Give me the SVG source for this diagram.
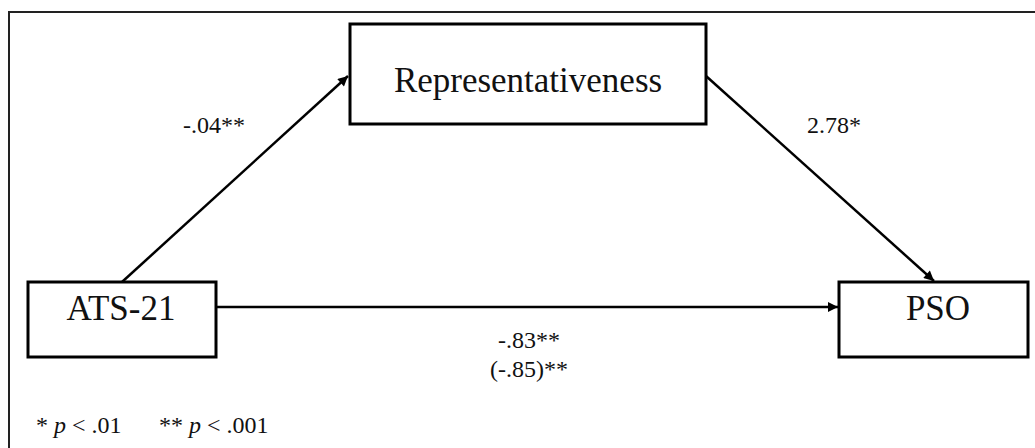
<svg xmlns="http://www.w3.org/2000/svg" width="1035" height="448" viewBox="0 0 1035 448">
<style>
.box{fill:#fff;stroke:#000;stroke-width:3}
.big{font-family:"Liberation Serif",serif;font-size:35px;fill:#111;text-anchor:middle}
.lbl{font-family:"Liberation Serif",serif;font-size:24px;fill:#111}
.con{stroke:#000;stroke-width:2.5;fill:none}
</style>
<defs>
<marker id="ah" viewBox="0 0 10 10" refX="10" refY="5" markerWidth="4.5" markerHeight="4" markerUnits="strokeWidth" orient="auto">
<path d="M0,0 L10,5 L0,10 z" fill="#000"/>
</marker>
</defs>
<rect width="1035" height="448" fill="#fff"/>
<path d="M9,460 V12 H1040" fill="none" stroke="#222" stroke-width="2"/>
<g id="connectors">
<line class="con" x1="122" y1="282" x2="348" y2="76" marker-end="url(#ah)"/>
<line class="con" x1="706" y1="76" x2="934" y2="281" marker-end="url(#ah)"/>
<line class="con" x1="216" y1="307" x2="838" y2="307" marker-end="url(#ah)"/>
<text class="lbl" x="183" y="133">-.04**</text>
<text class="lbl" x="807" y="133">2.78*</text>
<text class="lbl" x="529" y="348" text-anchor="middle">-.83**</text>
<text class="lbl" x="529" y="377" text-anchor="middle">(-.85)**</text>
</g>
<g id="node-rep">
<rect class="box" x="350" y="24" width="356" height="100"/>
<text class="big" x="528" y="92">Representativeness</text>
</g>
<g id="node-ats">
<rect class="box" x="28" y="282" width="188" height="75"/>
<text class="big" x="121" y="320">ATS-21</text>
</g>
<g id="node-pso">
<rect class="box" x="839" y="282" width="189" height="75"/>
<text class="big" x="938" y="320">PSO</text>
</g>
<g id="footnote">
<text class="lbl" x="36" y="433">* <tspan font-style="italic">p</tspan> &lt; .01</text>
<text class="lbl" x="159" y="433">** <tspan font-style="italic">p</tspan> &lt; .001</text>
</g>
</svg>
